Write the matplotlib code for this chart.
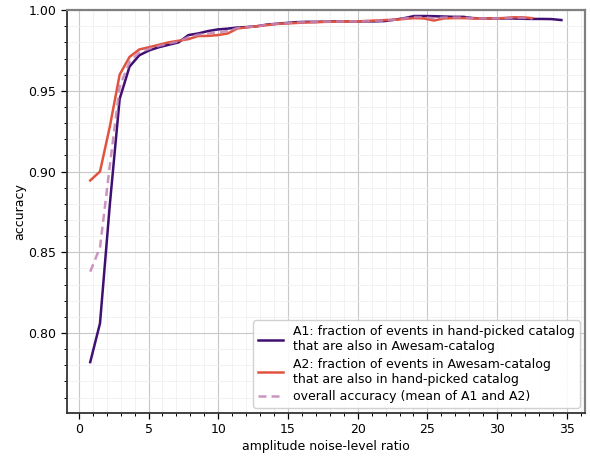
import numpy as np
import matplotlib
matplotlib.use("Agg")
import matplotlib.pyplot as plt
from matplotlib.ticker import MultipleLocator

x = [0.82, 1.52, 2.23, 2.93, 3.64, 4.34, 5.04, 5.75, 6.45, 7.16, 7.86, 8.56,
     9.27, 9.97, 10.68, 11.38, 12.08, 12.79, 13.49, 14.20, 14.90, 15.60, 16.31,
     17.01, 17.72, 18.42, 19.12, 19.83, 20.53, 21.24, 21.94, 22.64, 23.35,
     24.05, 24.76, 25.46, 26.16, 26.87, 27.57, 28.28, 28.98, 29.68, 30.39,
     31.09, 31.80, 32.50, 33.20, 33.91, 34.61]

a1 = [0.782, 0.806, 0.880, 0.945, 0.965, 0.972, 0.975, 0.977, 0.9785, 0.980,
      0.9845, 0.9855, 0.987, 0.988, 0.9885, 0.9892, 0.9895, 0.990, 0.991,
      0.9915, 0.992, 0.9925, 0.9927, 0.9927, 0.9928, 0.993, 0.993, 0.993,
      0.993, 0.993, 0.9932, 0.9940, 0.9950, 0.9963, 0.9963, 0.9962, 0.9960,
      0.9958, 0.9958, 0.9950, 0.9948, 0.9948, 0.9948, 0.9948, 0.9946, 0.9945,
      0.9945, 0.9944, 0.9938]

a2 = [0.8945, 0.900, 0.928, 0.960, 0.971, 0.9756, 0.977, 0.9785, 0.980, 0.981,
      0.982, 0.9839, 0.984, 0.9845, 0.9855, 0.9886, 0.9893, 0.990, 0.9907,
      0.9914, 0.9917, 0.992, 0.9923, 0.9925, 0.9927, 0.9928, 0.993, 0.993,
      0.9932, 0.9935, 0.9938, 0.9940, 0.9945, 0.9950, 0.9948, 0.9935, 0.9948,
      0.9950, 0.9950, 0.9948, 0.9948, 0.9948, 0.9950, 0.9955, 0.9955, 0.9950,
      np.nan, np.nan, np.nan]

overall = [0.838, 0.853, 0.904, 0.9525, 0.968, 0.9738, 0.976, 0.9778, 0.9793,
           0.9805, 0.9833, 0.9847, 0.9855, 0.9863, 0.987, 0.9889, 0.9894,
           0.990, 0.9909, 0.9915, 0.9919, 0.9923, 0.9925, 0.9926, 0.9928,
           0.9929, 0.993, 0.993, 0.9931, 0.9933, 0.9935, 0.994, 0.9948,
           0.9957, 0.9956, 0.9949, 0.9954, 0.9954, 0.9954, 0.9949, 0.9948,
           0.9948, 0.9949, 0.9952, 0.9951, 0.9948, np.nan, np.nan, np.nan]

labels = ["A1: fraction of events in hand-picked catalog\nthat are also in Awesam-catalog",
          "A2: fraction of events in Awesam-catalog\nthat are also in hand-picked catalog",
          "overall accuracy (mean of A1 and A2)"]

fig = plt.figure(figsize=(5.9, 4.57), dpi=100)
ax = fig.add_axes([0.113, 0.0963, 0.8785, 0.8817])

ax.plot(x, a1, color="#3f0f72", lw=1.8, label=labels[0], zorder=3)
ax.plot(x, a2, color="#e0533f", lw=1.8, label=labels[1], zorder=3)
ax.plot(x, overall, color="#c383b4", lw=1.8, ls=(0, (3.2, 2.0)), alpha=0.85,
        label=labels[2], zorder=3)

ax.set_ylim(0.7505, 1.0)
ax.xaxis.set_major_locator(MultipleLocator(5))
ax.xaxis.set_minor_locator(MultipleLocator(1))
ax.yaxis.set_major_locator(MultipleLocator(0.05))
ax.yaxis.set_minor_locator(MultipleLocator(0.01))
ax.grid(which="major", color="#c8c8c8", lw=0.8)
ax.grid(which="minor", color="#f0f0f0", lw=0.6)
ax.set_axisbelow(True)

for s in ["top", "right"]:
    ax.spines[s].set_color("#808080")
    ax.spines[s].set_linewidth(1.6)
for s in ["left", "bottom"]:
    ax.spines[s].set_color("#333333")
    ax.spines[s].set_linewidth(1.3)

ax.tick_params(which="major", length=4, width=0.9, labelsize=9)
ax.tick_params(which="minor", length=2.5, width=0.7)

ax.set_xlabel("amplitude noise-level ratio", fontsize=9, labelpad=2.5)
ax.set_ylabel("accuracy", fontsize=9, labelpad=1.5)
ax.legend(loc="lower right", fontsize=9, framealpha=0.9, handlelength=2.0,
          labelspacing=0.35, borderaxespad=0.4)

fig.savefig("out.png", dpi=100)
